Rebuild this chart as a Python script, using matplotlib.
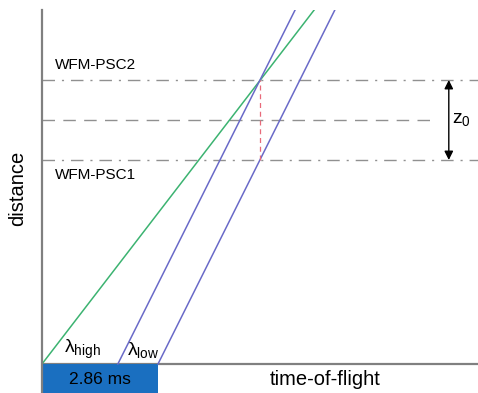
import matplotlib.pyplot as plt
from matplotlib.patches import Rectangle

plt.rcParams['font.family'] = ['Liberation Sans', 'DejaVu Sans']

# time-of-flight in ms, distance in arbitrary units
chopper_open = 2.86
green_t = [0.0, 6.71]
green_d = [0.0, 8.85]
blue1_t = [1.87, 6.24]
blue1_d = [0.0, 8.85]
blue2_t = [2.86, 7.22]
blue2_d = [0.0, 8.85]

psc1 = 5.1
psc2 = 7.1
mid = 6.1
t_cross = 5.375

fig = plt.figure(figsize=(4.78, 3.93), dpi=100)
ax = fig.add_axes([42 / 478, 0, 436 / 478, 383 / 393])
ax.set_xlim(0, 10.75)
ax.set_ylim(-0.725, 8.85)

for s in ["top", "right", "bottom"]:
    ax.spines[s].set_visible(False)
ax.spines["left"].set_color("#808080")
ax.spines["left"].set_linewidth(1.6)
ax.set_xticks([])
ax.set_yticks([])

ax.axhline(0, color="#808080", lw=1.6, zorder=1)

# chopper opening time
ax.add_patch(Rectangle((0, -0.725), chopper_open, 0.725, facecolor="#1a6fc0",
                       edgecolor="none", zorder=2))
ax.text(chopper_open / 2, -0.38, "2.86 ms", ha="center", va="center", fontsize=12.5)

# frame lines
ax.plot(green_t, green_d, color="#3cb371", lw=1.1)
ax.plot(blue1_t, blue1_d, color="#6a6ac8", lw=1.1)
ax.plot(blue2_t, blue2_d, color="#6a6ac8", lw=1.1)

# WFM chopper positions
ax.axhline(psc2, color="#909090", lw=1.0, dashes=(9, 5, 1.5, 5), zorder=0)
ax.axhline(psc1, color="#909090", lw=1.0, dashes=(9, 5, 1.5, 5), zorder=0)
ax.plot([0, 9.72], [mid, mid], color="#909090", lw=1.0, dashes=(9, 6), zorder=0)
ax.plot([t_cross, t_cross], [psc1, psc2], color="#e86a7a", lw=0.9, dashes=(4, 3))

ax.annotate("", xy=(10.03, psc2), xytext=(10.03, psc1),
            arrowprops=dict(arrowstyle="<|-|>", color="black", lw=1.0,
                            mutation_scale=13, shrinkA=0, shrinkB=0))
ax.text(10.12, mid, "z$_\\mathregular{0}$", fontsize=14, va="center", ha="left")

ax.text(0.33, psc2 + 0.2, "WFM-PSC2", fontsize=11, va="bottom", ha="left")
ax.text(0.33, psc1 - 0.2, "WFM-PSC1", fontsize=11, va="top", ha="left")

ax.text(0.55, 0.08, "λ$_\\mathregular{high}$", fontsize=14, va="bottom", ha="left")
ax.text(2.1, 0.08, "λ$_\\mathregular{low}$", fontsize=14, va="bottom", ha="left")

fig.text(18 / 478, 1 - 188 / 393, "distance", rotation=90, fontsize=14.5,
         ha="center", va="center")
ax.text(6.98, -0.38, "time-of-flight", fontsize=14.5, ha="center", va="center")

fig.savefig("out.png", dpi=100)
